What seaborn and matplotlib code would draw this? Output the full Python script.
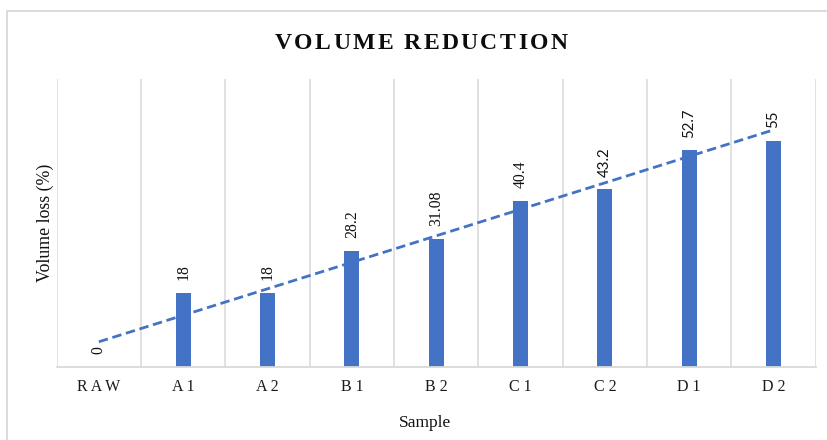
import numpy as np
import pandas as pd
import matplotlib
matplotlib.use("Agg")
import matplotlib.pyplot as plt
import seaborn as sns
from matplotlib.patches import Rectangle

# Volume loss per sample
samples = ["RAW", "A1", "A2", "B1", "B2", "C1", "C2", "D1", "D2"]
volume_loss = [0, 18, 18, 28.2, 31.08, 40.4, 43.2, 52.7, 55]
value_labels = ["0", "18", "18", "28.2", "31.08", "40.4", "43.2", "52.7", "55"]
label_families = ["Liberation Serif"] * 6 + ["Lato"] * 3

title_text = "VOLUME REDUCTION"
x_title = "Sample"
y_title = "Volume loss (%)"

BAR = "#4472C4"
GRID = "#D9D9D9"
W, H = 828, 440

sns.set_style("white")
plt.rcParams["font.family"] = ["Liberation Serif", "DejaVu Serif"]

fig = plt.figure(figsize=(W / 100, H / 100), dpi=100)
fig.patch.set_facecolor("white")

# light chart-area frame
fig.add_artist(Rectangle((7.5 / W, -0.5), 2.0, 0.5 + 1 - 11 / H,
                         transform=fig.transFigure, fill=False,
                         edgecolor=GRID, lw=1.3))

ax = fig.add_axes([56.7 / W, 1 - 366.7 / H, 759 / W, 287.7 / H])
df = pd.DataFrame({"Sample": samples, "Volume loss (%)": volume_loss})
sns.barplot(data=df, x="Sample", y="Volume loss (%)", color=BAR,
            saturation=1, width=0.18, linewidth=0, ax=ax)

ax.set_ylim(0, 70)
ax.set_xlim(-0.5, len(samples) - 0.5)
ax.set_yticks([])
ax.set_xticks(range(len(samples)))
ax.set_xticklabels([" ".join(s) for s in samples], fontsize=11.5)
ax.tick_params(axis="x", which="major", length=0, pad=9, colors="#1a1a1a")
ax.set_xticks(np.arange(-0.5, len(samples)), minor=True)
ax.tick_params(axis="x", which="minor", length=0)
ax.grid(True, axis="x", which="minor", color=GRID, lw=1.1)
ax.grid(False, axis="y")
ax.set_axisbelow(True)
for s in ["top", "left", "right"]:
    ax.spines[s].set_visible(False)
ax.spines["bottom"].set_color(GRID)
ax.spines["bottom"].set_linewidth(1.3)

# linear trend across samples
xs = np.arange(len(samples))
slope, intercept = np.polyfit(xs, volume_loss, 1)
ends = xs[[0, -1]]
ax.plot(ends, slope * ends + intercept, ls=(0, (3.4, 1.7)), color=BAR, lw=2.0,
        dash_capstyle="butt")

# value labels above bars
for i, (v, lab, fam) in enumerate(zip(volume_loss, value_labels, label_families)):
    ax.annotate(lab, (i, v), xytext=(0, 9), textcoords="offset points",
                rotation=90, ha="center", va="bottom",
                fontsize=11.3 if fam != "Lato" else 10.8, family=fam,
                color="#111111")

ax.set_ylabel(y_title, fontsize=12.8, va="center", color="#111111")
ax.yaxis.set_label_coords((45.5 - 56.7) / 759, 0.5)
ax.set_xlabel(x_title, fontsize=12.5, va="center", color="#111111")
ax.xaxis.set_label_coords((425 - 56.7) / 759, (366.7 - 423) / 287.7)


def tracked_text(fig, text, xc_px, base_px, tracking, size, **kw):
    """Draw text with extra letter spacing, centred at xc_px."""
    renderer = fig.canvas.get_renderer()
    size_px = size * 100 / 72
    parts = []
    for ch in text:
        if ch == " ":
            parts.append((None, size_px * 0.25))
            continue
        t = fig.text(0, 1 - base_px / H, ch, fontsize=size, va="baseline",
                     ha="left", **kw)
        parts.append((t, t.get_window_extent(renderer).width))
    total = sum(w for _, w in parts) + tracking * (len(parts) - 1)
    x = xc_px - total / 2
    for t, w in parts:
        if t is not None:
            t.set_x(x / W)
        x += w + tracking


tracked_text(fig, title_text, 421, 49, 2.4, 17, fontweight="bold",
             color="#0d0d0d")

fig.savefig("out.png", dpi=100, facecolor="white")
